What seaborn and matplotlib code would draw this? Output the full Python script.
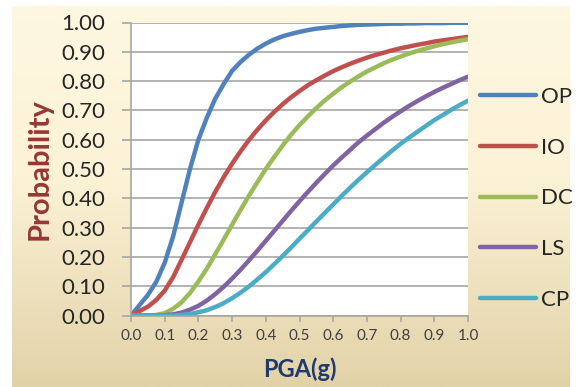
import numpy as np
import pandas as pd
import matplotlib
matplotlib.use("Agg")
import matplotlib.pyplot as plt
import seaborn as sns
from matplotlib.colors import LinearSegmentedColormap

# ===========================================
# DADOS
# ===========================================
pga = [0.0, 0.025, 0.05, 0.075, 0.1, 0.125, 0.15, 0.175, 0.2, 0.225,
       0.25, 0.275, 0.3, 0.325, 0.35, 0.375, 0.4, 0.425, 0.45, 0.475,
       0.5, 0.525, 0.55, 0.575, 0.6, 0.625, 0.65, 0.675, 0.7, 0.725,
       0.75, 0.775, 0.8, 0.825, 0.85, 0.875, 0.9, 0.925, 0.95, 0.975, 1.0]

op = [0.0, 0.035, 0.07, 0.115, 0.18, 0.27, 0.385, 0.5, 0.6, 0.675,
      0.74, 0.79, 0.835, 0.865, 0.89, 0.911, 0.928, 0.942, 0.953, 0.961,
      0.968, 0.974, 0.979, 0.982, 0.985, 0.988, 0.99, 0.992, 0.993, 0.994,
      0.995, 0.996, 0.996, 0.997, 0.997, 0.998, 0.998, 0.998, 0.999, 0.999, 0.999]

io = [0.0, 0.015, 0.03, 0.053, 0.085, 0.131, 0.19, 0.25, 0.31, 0.367,
      0.422, 0.472, 0.518, 0.56, 0.599, 0.634, 0.666, 0.695, 0.721, 0.745,
      0.766, 0.786, 0.803, 0.819, 0.834, 0.847, 0.859, 0.87, 0.88, 0.889,
      0.897, 0.905, 0.912, 0.918, 0.924, 0.929, 0.935, 0.939, 0.943, 0.947, 0.951]

dc = [0.0, 0.0, 0.0, 0.002, 0.008, 0.023, 0.045, 0.077, 0.116, 0.16,
      0.209, 0.259, 0.31, 0.36, 0.409, 0.455, 0.5, 0.541, 0.58, 0.617,
      0.65, 0.68, 0.708, 0.734, 0.757, 0.779, 0.798, 0.816, 0.833, 0.847,
      0.861, 0.873, 0.884, 0.894, 0.903, 0.911, 0.919, 0.926, 0.932, 0.938, 0.943]

ls = [0.0, 0.0, 0.0, 0.0, 0.001, 0.004, 0.01, 0.02, 0.033, 0.051,
      0.073, 0.098, 0.126, 0.156, 0.188, 0.221, 0.255, 0.289, 0.323, 0.357,
      0.39, 0.422, 0.453, 0.483, 0.512, 0.539, 0.565, 0.591, 0.614, 0.636,
      0.658, 0.678, 0.697, 0.715, 0.732, 0.748, 0.763, 0.777, 0.79, 0.803, 0.815]

cp = [0.0, 0.0, 0.0, 0.0, 0.0, 0.0, 0.002, 0.005, 0.011, 0.018,
      0.029, 0.042, 0.059, 0.078, 0.099, 0.123, 0.148, 0.175, 0.203, 0.232,
      0.262, 0.291, 0.321, 0.35, 0.379, 0.408, 0.436, 0.463, 0.489, 0.514,
      0.539, 0.563, 0.586, 0.607, 0.627, 0.647, 0.667, 0.684, 0.702, 0.718, 0.733]

estados = ['OP', 'IO', 'DC', 'LS', 'CP']
y_ticks = [0.0, 0.1, 0.2, 0.3, 0.4, 0.5, 0.6, 0.7, 0.8, 0.9, 1.0]
x_ticks = [0.0, 0.1, 0.2, 0.3, 0.4, 0.5, 0.6, 0.7, 0.8, 0.9, 1.0]

CORES = ['#4F81BD', '#C0504D', '#9BBB59', '#8064A2', '#4BACC6']
GRADE = '#A6A6A6'

# ===========================================
# ESTILO
# ===========================================
sns.set_theme(style="white")
plt.rcParams['font.family'] = ['Lato', 'DejaVu Sans']

df = pd.DataFrame({
    'PGA': pga * len(estados),
    'prob': op + io + dc + ls + cp,
    'estado': np.repeat(estados, len(pga)),
})

fig = plt.figure(figsize=(5.8, 3.87), dpi=100, facecolor='white')

# fundo em degrade (creme -> bege)
bg = fig.add_axes([12 / 580, 0, 558 / 580, 381 / 387], zorder=0)
grad = np.linspace(0, 1, 256).reshape(-1, 1)
cmap = LinearSegmentedColormap.from_list(
    'fundo', [(0, '#FEF7E1'), (0.45, '#FCF2D6'), (1, '#E2D2A8')])
bg.imshow(grad, aspect='auto', cmap=cmap, extent=[0, 1, 0, 1], origin='upper')
bg.axis('off')

ax = fig.add_axes([131 / 580, 1 - 315.5 / 387, 337 / 580, 293 / 387], zorder=1)
ax.set_facecolor('white')

sns.lineplot(data=df, x='PGA', y='prob', hue='estado', hue_order=estados,
             palette=CORES, linewidth=3.2, sort=False, estimator=None, ax=ax)
for linha in ax.lines:
    linha.set_solid_capstyle('round')
    linha.set_solid_joinstyle('round')

ax.set_xlim(0, 1)
ax.set_ylim(0, 1)
ax.set_yticks(y_ticks)
ax.set_yticklabels([f'{v:.2f}' for v in y_ticks])
ax.set_xticks(x_ticks)
ax.set_xticklabels([f'{v:.1f}' for v in x_ticks])

ax.yaxis.grid(True, color=GRADE, linewidth=1.2)
ax.xaxis.grid(False)
ax.set_axisbelow(True)
for lado in ['top', 'right']:
    ax.spines[lado].set_visible(False)
for lado in ['left', 'bottom']:
    ax.spines[lado].set_color(GRADE)
    ax.spines[lado].set_linewidth(1.2)

ax.tick_params(axis='y', left=True, length=6.5, width=1.2, color=GRADE,
               pad=12, labelsize=16, labelcolor='#262626')
ax.tick_params(axis='x', bottom=True, length=4, width=1.2, color=GRADE,
               pad=6, labelsize=11, labelcolor='#404040')

ax.set_ylabel('Probability', fontsize=21, fontweight='bold',
              color='#953735', labelpad=6)
ax.set_xlabel('PGA(g)', fontsize=17, fontweight='bold',
              color='#1F3A6E', labelpad=10)

leg = ax.legend(title=None, loc='center left', bbox_to_anchor=(1.036, 0.40),
                frameon=False, fontsize=16, handlelength=2.5,
                handletextpad=0.25, labelspacing=1.38,
                borderaxespad=0, borderpad=0)
for txt in leg.get_texts():
    txt.set_color('#262626')
for h in leg.get_lines():
    h.set_linewidth(3.2)

fig.savefig('out.png', dpi=100)
